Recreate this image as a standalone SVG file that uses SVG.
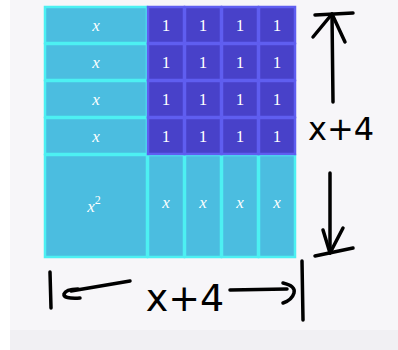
<svg xmlns="http://www.w3.org/2000/svg" width="398" height="350" viewBox="0 0 398 350">
<style>
.xt{fill:#4bbde0;stroke:#4df0f2;stroke-width:2.5}
.ut{fill:#4841c9;stroke:#5f5ef0;stroke-width:2.5}
.lb{font-family:"Liberation Serif",serif;font-size:17px;fill:#ffffff;text-anchor:middle}
.it{font-style:italic}
.hand{fill:none;stroke:#000;stroke-width:3.5;stroke-linecap:round;stroke-linejoin:round}
.ht{font-family:"DejaVu Sans","Liberation Sans",sans-serif;fill:#000;text-anchor:middle}
</style>
<rect x="0" y="0" width="398" height="350" fill="#ffffff"/>
<rect x="10" y="0" width="388" height="330" fill="#f7f6f9"/>
<rect x="10" y="330" width="388" height="20" fill="#f1f0f3"/>
<g id="tiles">
<g id="x-row1"><rect class="xt" x="45" y="7" width="102" height="36"/><text class="lb it" x="96" y="31">x</text></g>
<g id="x-row2"><rect class="xt" x="45" y="44" width="102" height="36"/><text class="lb it" x="96" y="68">x</text></g>
<g id="x-row3"><rect class="xt" x="45" y="81" width="102" height="36"/><text class="lb it" x="96" y="105">x</text></g>
<g id="x-row4"><rect class="xt" x="45" y="118" width="102" height="36"/><text class="lb it" x="96" y="142">x</text></g>
<g id="x-squared"><rect class="xt" x="45" y="155" width="102" height="102"/><text class="lb it" x="94" y="212">x<tspan font-size="12" font-style="normal" dy="-8">2</tspan></text></g>
<g id="x-col1"><rect class="xt" x="148" y="155" width="36" height="102"/><text class="lb it" x="166" y="208">x</text></g>
<g id="x-col2"><rect class="xt" x="185" y="155" width="36" height="102"/><text class="lb it" x="203" y="208">x</text></g>
<g id="x-col3"><rect class="xt" x="222" y="155" width="36" height="102"/><text class="lb it" x="240" y="208">x</text></g>
<g id="x-col4"><rect class="xt" x="259" y="155" width="36" height="102"/><text class="lb it" x="277" y="208">x</text></g>
<g id="units">
<rect class="ut" x="148" y="7" width="36" height="36"/><rect class="ut" x="185" y="7" width="36" height="36"/><rect class="ut" x="222" y="7" width="36" height="36"/><rect class="ut" x="259" y="7" width="36" height="36"/>
<rect class="ut" x="148" y="44" width="36" height="36"/><rect class="ut" x="185" y="44" width="36" height="36"/><rect class="ut" x="222" y="44" width="36" height="36"/><rect class="ut" x="259" y="44" width="36" height="36"/>
<rect class="ut" x="148" y="81" width="36" height="36"/><rect class="ut" x="185" y="81" width="36" height="36"/><rect class="ut" x="222" y="81" width="36" height="36"/><rect class="ut" x="259" y="81" width="36" height="36"/>
<rect class="ut" x="148" y="118" width="36" height="36"/><rect class="ut" x="185" y="118" width="36" height="36"/><rect class="ut" x="222" y="118" width="36" height="36"/><rect class="ut" x="259" y="118" width="36" height="36"/>
<text class="lb" x="166" y="31">1</text><text class="lb" x="203" y="31">1</text><text class="lb" x="240" y="31">1</text><text class="lb" x="277" y="31">1</text>
<text class="lb" x="166" y="68">1</text><text class="lb" x="203" y="68">1</text><text class="lb" x="240" y="68">1</text><text class="lb" x="277" y="68">1</text>
<text class="lb" x="166" y="105">1</text><text class="lb" x="203" y="105">1</text><text class="lb" x="240" y="105">1</text><text class="lb" x="277" y="105">1</text>
<text class="lb" x="166" y="142">1</text><text class="lb" x="203" y="142">1</text><text class="lb" x="240" y="142">1</text><text class="lb" x="277" y="142">1</text>
</g>
</g>
<g id="connectors">
<path class="hand" d="M315 15 L353 13"/>
<path class="hand" d="M313 37 L332 14 L345 42"/>
<path class="hand" d="M332 14 L333 102"/>
<path class="hand" d="M330 173 L330 253"/>
<path class="hand" d="M323 230 L330 253 L343 228"/>
<path class="hand" d="M315 256 L353 248"/>
<path class="hand" d="M50 272 L51 308"/>
<path class="hand" d="M78 289 Q66 289 64 294 Q63 299 80 298"/>
<path class="hand" d="M71 291 L130 281"/>
<path class="hand" d="M230 290 L287 289"/>
<path class="hand" d="M283 283 Q296 286 294 293 Q292 300 283 303"/>
<path class="hand" d="M302 261 L303 320"/>
</g>
<g id="labels">
<text class="ht" x="341" y="140" font-size="32">x+4</text>
<text class="ht" x="185" y="311" font-size="38">x+4</text>
</g>
</svg>
